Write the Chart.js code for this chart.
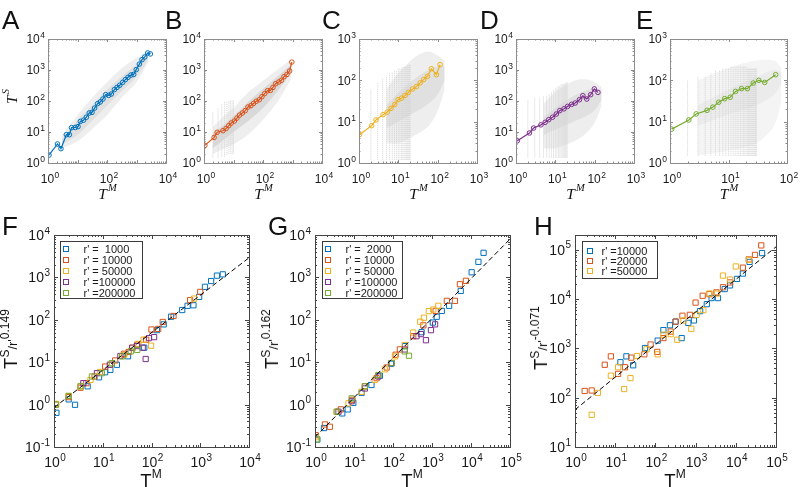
<!DOCTYPE html>
<html><head><meta charset="utf-8">
<script src="https://cdn.jsdelivr.net/npm/chart.js@4.4.0/dist/chart.umd.min.js"></script>
<style>
html,body{margin:0;padding:0;background:#fff;}
body{width:802px;height:487px;position:relative;overflow:hidden;font-family:"Liberation Sans",Arial,sans-serif;color:#111;}
canvas{position:absolute;}
.t{position:absolute;white-space:nowrap;line-height:1;color:#111;}
</style></head><body>
<script>
// ---------------- DATA ----------------
// top row: binned averages (T^M, T^S)
const aLine = [[1.08,1.8],[2.1,4.1],[2.75,2.9],[4.2,8.2],[5.3,8.2],[6.3,13.8],[8.4,14],[10.4,14.9],[12.5,22],[16,24],[20,30],[25,41],[31,43],[38,59],[48,82],[59,93],[73,116],[90,160],[114,152],[140,168],[178,233],[218,275],[270,322],[340,400],[420,490],[515,580],[650,690],[800,720],[980,1030],[1250,1550],[1540,2150],[1900,2630],[2400,3540],[2950,3300]];
const bLine = [[1.07,3.7],[2.2,6.7],[2.8,9.8],[4.4,11],[5.6,13],[6.9,16],[8.4,19.5],[10.7,22.6],[13,28],[16,35],[20,41],[25,49],[31,64],[39,71],[48,84],[59,98],[75,110],[92,138],[114,173],[143,215],[178,220],[218,275],[270,362],[340,410],[420,465],[515,605],[650,720],[800,930],[950,1800]];
const cLine = [[1.04,4.9],[2.1,8],[2.7,11],[4.1,14.8],[5.2,17],[6.5,21],[8.1,26],[9.8,34],[12,37],[14.8,43],[18,51],[23,62],[29,71],[36,87],[44,104],[55,125],[69,191],[93,137],[115,240]];
const dLine = [[1.08,5.2],[2.2,9.3],[2.8,13.4],[4.3,17],[5.5,20.5],[6.8,25],[8.5,30],[10.6,38],[13,49],[16.6,56],[20.5,67],[26,78],[32,86],[41,110],[50,148],[63,116],[79,160],[98,245],[121,190]];
const eLine = [[1.07,6.6],[2.1,11],[2.8,15.4],[4.3,18.8],[5.4,22.5],[6.8,29.5],[8.6,36],[10.7,39],[13.2,54],[16.7,63],[21,63],[26.5,86],[33,100],[41.6,89],[64,137]];

// top row: extent of the grey raw-data clouds
const aCloudX = [3,10,30,100,300,1000,2500];
const aOuterHi = [8,35,120,400,1100,2500,3800];
const aOuterLo = [3,5,12,35,120,400,1800];
const aInnerHi = [6,24,70,230,600,1500,3000];
const aInnerLo = [4,8,22,70,200,600,2200];
const bCloudX = [2,5,10,30,100,300,900];
const bOuterHi = [15,35,60,180,450,1000,2200];
const bOuterLo = [2,3,4,8,25,90,500];
const bInnerHi = [9,18,32,90,250,600,1500];
const bInnerLo = [3,6,10,22,60,200,800];
const cCloudX = [5,10,30,60,100,150];
const cOuterHi = [60,150,400,500,400,300];
const cOuterLo = [3,3,5,8,18,60];
const cInnerHi = [25,50,120,180,220,230];
const cInnerLo = [7,10,18,28,45,100];
const dCloudX = [5,10,30,60,100,150];
const dOuterHi = [80,200,450,500,400,280];
const dOuterLo = [3,3,5,9,20,70];
const dInnerHi = [30,60,150,220,250,230];
const dInnerLo = [8,12,22,32,50,110];
const eCloudX = [3,10,30,60,80];
const eOuterHi = [100,200,300,300,200];
const eOuterLo = [1.5,2,3,8,30];
const eInnerHi = [25,60,120,180,160];
const eInnerLo = [8,15,25,45,80];

// top row: vertical streaks of raw points at integer T^M
const bStripeX = [1,2,3,4,5,6,7,8,9,10];
const bStripeLo = [1.3,1.5,1.5,1.6,1.6,1.8,2,2,2,2];
const bStripeHi = [20,45,60,80,100,100,100,110,110,110];
const cStripeX = [1,2,3,4,5,6,7,8,9,10,11,12,13,14,15,16,17,18,19,20];
const cStripeLo = [1.2,1.2,1.2,1.2,1.2,1.2,1.2,1.2,1.2,1.2,1.2,1.2,1.2,1.2,1.2,1.2,1.2,1.2,1.2,1.2];
const cStripeHi = [20,60,90,110,130,150,160,170,180,190,200,200,210,210,220,220,230,230,240,240];
const dStripeX = [1,2,3,4,5,6,7,8,9,10,11,12,13,14,15,16,17,18,19,20];
const dStripeLo = [1.5,1.5,1.5,1.5,1.5,1.5,1.5,1.5,1.5,1.5,1.5,1.5,1.5,1.5,1.5,1.5,1.5,1.5,1.5,1.5];
const dStripeHi = [30,110,120,130,140,150,170,190,220,250,280,300,320,340,350,360,370,380,390,400];
const eStripeX = [1,2,3,4,5,6,7,8,9,10,11,12,13,14,15,16,17,18,19,20,21,22,23,24,25,26,27,28,29,30];
const eStripeLo = [1.5,1.5,1.5,1.5,1.5,1.5,1.5,1.5,1.5,1.5,1.5,1.5,1.5,1.5,1.5,1.5,1.5,1.5,1.5,1.5,1.5,1.5,1.5,1.5,1.5,1.5,1.5,1.5,1.5,1.5];
const eStripeHi = [40,100,120,130,150,170,180,190,200,200,210,210,210,220,220,220,220,220,220,220,200,200,200,200,200,200,200,200,200,200];

// bottom row: rescaled curves
const fLabels = ["r' =  1000","r' = 10000","r' = 50000","r' =100000","r' =200000"];
const fBlue = [[1.12,0.64],[2.0,1.33],[2.7,0.99],[4.9,2.7],[8.4,4.4],[11.2,5.8],[14.3,6.6],[19.5,8.7],[33,13.8],[71,22],[129,57],[178,78],[252,118],[426,170],[550,214],[725,220],[950,347],[1250,600],[1670,820],[2200,1100],[2900,1180]];
const fOrange = [[1.1,1.0],[2.0,1.5],[3.5,2.5],[4.6,3.2],[6.8,4.6],[11.2,7.9],[18,11],[27.5,15.8],[34,17.4],[51,26],[78,34],[100,59],[137,61],[170,89],[283,123],[620,290],[1000,455]];
const fYellow = [[1.1,1.04],[2.0,1.6],[3.5,2.7],[5.6,3.8],[8.9,5.9],[14.3,8.7],[27,14.8],[41,22],[54,27],[69,34],[98,24.5],[750,316]];
const fPurple = [[4,3.2],[7.6,5.5],[14,8.7],[23,14],[40,22],[50,24],[66,22],[76,11.9],[89,37],[113,39]];
const fGreen = [[1.1,1.0],[2.0,1.6],[3.5,2.7],[6,4.6],[9.6,5.5],[15.4,9.5],[25,13.7],[37.6,18],[51,19.5]];
const fFit = [[1,0.85],[10000,2900]];

const gLabels = ["r' =  2000","r' = 10000","r' = 50000","r' =100000","r' =200000"];
const gBlue = [[1.15,0.15],[1.7,0.28],[5.0,0.62],[6.9,0.77],[9.6,1.1],[15.7,1.9],[28,2.9],[46,4.8],[89,9.2],[204,24],[540,51],[1050,86],[1320,118],[1780,162],[2750,214],[5450,480],[10400,1320],[15500,2330],[21000,3800]];
const gOrange = [[1.04,0.19],[1.8,0.34],[2.4,0.30],[4.6,0.77],[9.1,1.3],[19,2.7],[38,4.2],[69,7.5],[117,15],[150,20],[330,41],[600,74],[1240,162],[2400,280],[3870,280],[5200,690],[7400,830]];
const gYellow = [[1.06,0.17],[3.6,0.68],[7.2,1.07],[15.7,2.0],[34,3.8],[62,6.8],[112,13.7],[200,25.5],[330,50],[500,90],[620,112],[830,160],[1080,175],[1450,214]];
const gPurple = [[4.0,0.68],[8.7,1.2],[19,2.4],[42,4.6],[92,9.5],[200,20],[400,41],[520,46],[700,33],[940,57],[1200,78]];
const gGreen = [[1.1,0.15],[3.6,0.68],[8.7,1.4],[19,2.7],[42,5],[92,9.5],[200,18],[257,14.2]];
const gFit = [[1,0.17],[100000,8000]];

const hLabels = ["r' =10000","r' =20000","r' =50000"];
const hBlue = [[13.5,525],[19,690],[28,455],[55,1020],[114,1440],[158,2350],[230,2950],[318,3500],[450,1620],[660,3300],[910,3700],[1300,5700],[1900,7900],[2500,10500],[3600,10500],[5300,16000],[7200,19000],[10700,25700],[15000,33000],[22000,57000],[45000,86000]];
const hOrange = [[1.74,137],[2.6,140],[5.5,466],[7.8,690],[11.8,305],[17.5,415],[25,650],[53,760],[76,1200],[111,850],[158,1620],[240,2200],[318,3500],[470,4600],[720,4800],[1000,8500],[1500,11700],[2200,12600],[3300,13700],[4800,17400],[7200,21800],[15000,43500],[21000,64000],[30000,79000],[43000,123000]];
const hYellow = [[2.6,45],[3.7,125],[7.8,280],[11.8,415],[16.7,150],[24,250],[35,700],[60,960],[114,760],[158,1900],[240,1950],[350,1500],[500,3700],[780,2500],[1060,4800],[1560,6000],[2200,13000],[3400,13000],[4800,30000],[7200,25000],[10000,46000],[21500,63000]];
const hFit = [[1,57],[100000,115000]];

// tick values
const ticksAB_X = [1,100,10000];
const ticks4_Y = [1,10,100,1000,10000];
const ticks3 = [1,10,100,1000];
const ticksE_X = [1,10,100];
const ticksF_X = [1,10,100,1000,10000];
const ticksFG_Y = [0.1,1,10,100,1000,10000];
const ticks5_X = [1,10,100,1000,10000,100000];
const ticksH_Y = [10,100,1000,10000,100000];

// ---------------- RENDERING ----------------
const COL = {blue:'#0072BD', orange:'#D95319', yellow:'#EDB120', purple:'#7E2F8E', green:'#77AC30'};
const FAM = '"Liberation Sans", Arial, sans-serif';
const xy = arr => arr.map(p => ({x:p[0], y:p[1]}));
const zipXY = (xs, ys) => xs.map((x,i) => ({x, y:ys[i]}));
const stripes = (xs, lo, hi) => { const d=[]; xs.forEach((x,i)=>{ d.push({x,y:lo[i]},{x,y:hi[i]},{x,y:null}); }); return d; };

const axesPlugin = {
  id:'matlabAxes',
  afterDraw(chart, args, o){
    const ctx = chart.ctx, a = chart.chartArea, xs = chart.scales.x, ys = chart.scales.y;
    ctx.save();
    ctx.strokeStyle = o.color; ctx.lineWidth = 1;
    const steps = s => { const out=[]; const lo=Math.floor(Math.log10(s.min)+1e-9), hi=Math.ceil(Math.log10(s.max)-1e-9);
      for (let d=lo; d<=hi; d++) for (let k=1;k<10;k++){ const v=k*Math.pow(10,d); if (v>=s.min*0.9999 && v<=s.max*1.0001) out.push([v,k===1]); }
      return out; };
    ctx.beginPath();
    steps(xs).forEach(([v,m]) => { const p=Math.round(xs.getPixelForValue(v))+0.5, L=m?o.major:o.minor;
      ctx.moveTo(p,a.bottom); ctx.lineTo(p,a.bottom-L); ctx.moveTo(p,a.top); ctx.lineTo(p,a.top+L); });
    steps(ys).forEach(([v,m]) => { const p=Math.round(ys.getPixelForValue(v))+0.5, L=m?o.major:o.minor;
      ctx.moveTo(a.left,p); ctx.lineTo(a.left+L,p); ctx.moveTo(a.right,p); ctx.lineTo(a.right-L,p); });
    ctx.stroke();
    ctx.strokeRect(Math.round(a.left)+0.5, Math.round(a.top)+0.5, Math.round(a.right-a.left), Math.round(a.bottom-a.top));
    ctx.fillStyle = o.textColor; ctx.textAlign='left'; ctx.textBaseline='alphabetic';
    const bf = o.fs+'px '+FAM, ef = o.es+'px '+FAM;
    const lab = (v, x, cy, mode) => {
      const e = String(Math.round(Math.log10(v)));
      ctx.font = bf; const wb = ctx.measureText('10').width;
      ctx.font = ef; const we = ctx.measureText(e).width;
      const w = wb + o.eGap + we; const x0 = mode==='c' ? x - w/2 : x - w;
      const base = cy + 0.358*o.fs;
      ctx.font = bf; ctx.fillText('10', x0, base);
      ctx.font = ef; ctx.fillText(e, x0+wb+o.eGap, base-o.raise);
    };
    xs.ticks.forEach(t => lab(t.value, xs.getPixelForValue(t.value)+o.xOff, a.bottom+o.xGap, 'c'));
    ys.ticks.forEach(t => lab(t.value, a.left-o.yGap, ys.getPixelForValue(t.value), 'r'));
    ctx.restore();
  }
};

const legendPlugin = {
  id:'innerLegend',
  afterDraw(chart, args, o){
    if (!o || !o.w) return;
    const ctx = chart.ctx, a = chart.chartArea;
    const bx = Math.round(a.left+o.dx)+0.5, by = Math.round(a.top+o.dy)+0.5;
    ctx.save();
    ctx.fillStyle='#fff'; ctx.fillRect(bx,by,o.w,o.h);
    ctx.strokeStyle='#3a3a3a'; ctx.lineWidth=1; ctx.strokeRect(bx,by,o.w,o.h);
    ctx.font = o.fs+'px '+FAM; ctx.textBaseline='middle'; ctx.textAlign='left';
    let i=0;
    chart.data.datasets.forEach(ds => {
      if (!ds.label) return;
      const cy = Math.round(by+o.first+i*o.row);
      ctx.strokeStyle = ds.borderColor; ctx.lineWidth=1;
      ctx.strokeRect(Math.round(bx+o.mx)-2.5, cy-2.5, 5, 5);
      ctx.fillStyle='#1a1a1a'; ctx.fillText(ds.label, bx+o.tx, cy+0.5);
      i++;
    });
    ctx.restore();
  }
};

function panel(area, ax, datasets, style, legend){
  const pad = style.pad;
  const cv = document.createElement('canvas');
  cv.width = area.w + pad.l + pad.r; cv.height = area.h + pad.t + pad.b;
  cv.style.left = (area.l - pad.l)+'px'; cv.style.top = (area.t - pad.t)+'px';
  document.body.appendChild(cv);
  const sc = (min, max, ticks, isX) => ({
    type:'logarithmic', min, max,
    grid:{display:false}, border:{display:false}, ticks:{display:false},
    afterBuildTicks: s => { s.ticks = ticks.map(v => ({value:v})); },
    afterFit: s => { if (isX) s.height = pad.b; else s.width = pad.l; }
  });
  new Chart(cv, {
    type:'scatter',
    data:{datasets},
    options:{
      responsive:false, animation:false, devicePixelRatio:1, events:[],
      layout:{padding:{left:0, right:pad.r, top:pad.t, bottom:0}},
      plugins:{legend:{display:false}, tooltip:{enabled:false}, matlabAxes:style.axes, innerLegend:legend || {}},
      scales:{ x: sc(ax.xMin, ax.xMax, ax.xTicks, true), y: sc(ax.yMin, ax.yMax, ax.yTicks, false) }
    },
    plugins:[axesPlugin, legendPlugin]
  });
}

function band(xs, lo, hi, color, order){
  return [
    {data:zipXY(xs,lo), showLine:true, borderWidth:0, borderColor:'rgba(0,0,0,0)', pointRadius:0, fill:false, tension:0.3, order},
    {data:zipXY(xs,hi), showLine:true, borderWidth:0, borderColor:'rgba(0,0,0,0)', pointRadius:0, fill:'-1', backgroundColor:color, tension:0.3, order}
  ];
}
function streaks(xs, lo, hi){
  return {data:stripes(xs,lo,hi), showLine:true, spanGaps:false, borderColor:'#d3d3d3', borderWidth:1, borderDash:[1,1], pointRadius:0, fill:false, order:8};
}
function mline(data, color){
  return {data:xy(data), showLine:true, borderColor:color, borderWidth:1.2, pointStyle:'circle', pointRadius:2.3,
    pointBorderWidth:1, pointBorderColor:color, pointBackgroundColor:'rgba(255,255,255,0)', backgroundColor:'rgba(0,0,0,0)', fill:false, order:0};
}
function sq(data, color, label, order){
  return {label, data:xy(data), showLine:false, pointStyle:'rect', pointRadius:3.7, pointBorderWidth:1,
    borderColor:color, pointBorderColor:color, backgroundColor:'rgba(0,0,0,0)', pointBackgroundColor:'rgba(0,0,0,0)', order};
}
function fit(data){
  return {data:xy(data), showLine:true, borderColor:'#000', borderWidth:1, borderDash:[5,3], pointRadius:0, fill:false, order:0};
}

const topStyle = {pad:{l:44,r:16,t:8,b:28}, axes:{color:'#8c8c8c', textColor:'#1a1a1a', major:3, minor:1.5, fs:12, es:8.5, raise:5, eGap:0.5, xGap:15.5, xOff:2, yGap:3}};
const botStyle = {pad:{l:50,r:16,t:8,b:32}, axes:{color:'#444', textColor:'#1a1a1a', major:4, minor:2, fs:14, es:10, raise:6.5, eGap:0.5, xGap:15, xOff:1, yGap:4}};
const OUT = '#eeeeee', INN = '#e0e0e0';

// A
panel({l:48,t:39,w:118,h:124}, {xMin:1,xMax:1e4,yMin:1,yMax:1e4,xTicks:ticksAB_X,yTicks:ticks4_Y},
  [...band(aCloudX,aOuterLo,aOuterHi,OUT,10), ...band(aCloudX,aInnerLo,aInnerHi,INN,9), mline(aLine,COL.blue)], topStyle);
// B
panel({l:204,t:39,w:118,h:124}, {xMin:1,xMax:1e4,yMin:1,yMax:1e4,xTicks:ticksAB_X,yTicks:ticks4_Y},
  [...band(bCloudX,bOuterLo,bOuterHi,OUT,10), ...band(bCloudX,bInnerLo,bInnerHi,'#d9d9d9',9), streaks(bStripeX,bStripeLo,bStripeHi), mline(bLine,COL.orange)], topStyle);
// C
panel({l:359,t:39,w:118,h:124}, {xMin:1,xMax:1e3,yMin:1,yMax:1e3,xTicks:ticks3,yTicks:ticks3},
  [...band(cCloudX,cOuterLo,cOuterHi,OUT,10), ...band(cCloudX,cInnerLo,cInnerHi,INN,9), streaks(cStripeX,cStripeLo,cStripeHi), mline(cLine,COL.yellow)], topStyle);
// D
panel({l:516,t:39,w:118,h:124}, {xMin:1,xMax:1e3,yMin:1,yMax:1e4,xTicks:ticks3,yTicks:ticks4_Y},
  [...band(dCloudX,dOuterLo,dOuterHi,OUT,10), ...band(dCloudX,dInnerLo,dInnerHi,INN,9), streaks(dStripeX,dStripeLo,dStripeHi), mline(dLine,COL.purple)], topStyle);
// E
panel({l:670,t:39,w:117,h:124}, {xMin:1,xMax:100,yMin:1,yMax:1e3,xTicks:ticksE_X,yTicks:ticks3},
  [...band(eCloudX,eOuterLo,eOuterHi,'#f4f4f4',10), ...band(eCloudX,eInnerLo,eInnerHi,'#ebebeb',9), streaks(eStripeX,eStripeLo,eStripeHi), mline(eLine,COL.green)], topStyle);

// F
panel({l:54,t:235,w:195,h:212}, {xMin:1,xMax:1e4,yMin:0.1,yMax:1e4,xTicks:ticksF_X,yTicks:ticksFG_Y},
  [sq(fBlue,COL.blue,fLabels[0],5), sq(fOrange,COL.orange,fLabels[1],4), sq(fYellow,COL.yellow,fLabels[2],3), sq(fPurple,COL.purple,fLabels[3],2), sq(fGreen,COL.green,fLabels[4],1), fit(fFit)],
  botStyle, {dx:6, dy:6, w:82, h:57, first:7.5, row:11, mx:5, tx:23, fs:11});
// G
panel({l:315,t:235,w:195,h:212}, {xMin:1,xMax:1e5,yMin:0.1,yMax:1e4,xTicks:ticks5_X,yTicks:ticksFG_Y},
  [sq(gBlue,COL.blue,gLabels[0],5), sq(gOrange,COL.orange,gLabels[1],4), sq(gYellow,COL.yellow,gLabels[2],3), sq(gPurple,COL.purple,gLabels[3],2), sq(gGreen,COL.green,gLabels[4],1), fit(gFit)],
  botStyle, {dx:7, dy:6, w:80, h:57, first:7.5, row:11, mx:5.5, tx:23, fs:11});
// H
panel({l:575,t:235,w:201,h:212}, {xMin:1,xMax:1e5,yMin:10,yMax:2e5,xTicks:ticks5_X,yTicks:ticksH_Y},
  [sq(hBlue,COL.blue,hLabels[0],5), sq(hOrange,COL.orange,hLabels[1],4), sq(hYellow,COL.yellow,hLabels[2],3), fit(hFit)],
  botStyle, {dx:7, dy:6, w:75, h:37, first:9, row:10, mx:7, tx:19, fs:11});

// ---------------- TEXT ----------------
function addText(html, css){ const d=document.createElement('div'); d.className='t'; d.innerHTML=html; d.setAttribute('style', css); document.body.appendChild(d); }
[['A',2,4.6],['B',165,4.6],['C',322,4.6],['D',480,4.6],['E',636,4.6],['F',2,210.6],['G',268,210.6],['H',534,210.6]].forEach(([L,x,y]) =>
  addText(L, `left:${x}px;top:${y}px;font:26px ${FAM};`));
const TM_SERIF = '<i>T</i><span style="font-size:10.5px;position:relative;top:-8px;left:1px"><i>M</i></span>';
[107,263,418,575,728.5].forEach(cx => addText(TM_SERIF, `left:${cx}px;top:185px;transform:translateX(-50%);font:italic 15.5px "Liberation Serif",serif;`));
addText('<i>T</i><span style="font-size:10.5px;position:relative;top:-8px;left:1px"><i>S</i></span>',
  `left:12px;top:97px;transform:translate(-50%,-50%) rotate(-90deg);font:italic 15.5px "Liberation Serif",serif;`);
const TM_SANS = 'T<span style="font-size:12px;position:relative;top:-9px">M</span>';
[151,412,675].forEach(cx => addText(TM_SANS, `left:${cx}px;top:470.3px;transform:translateX(-50%);font:18.5px ${FAM};`));
const ylab = e => `T<span style="font-size:12px;position:relative;top:-8px">S</span><span style="font-size:13px">/r'</span><span style="font-size:12px;position:relative;top:-8px">${e}</span>`;
addText(ylab('0.149'), `left:11px;top:339px;transform:translate(-50%,-50%) rotate(-90deg);font:18.5px ${FAM};`);
addText(ylab('0.162'), `left:272px;top:339px;transform:translate(-50%,-50%) rotate(-90deg);font:18.5px ${FAM};`);
addText(ylab('-0.071'), `left:541px;top:338px;transform:translate(-50%,-50%) rotate(-90deg);font:18.5px ${FAM};`);
</script>
</body></html>
